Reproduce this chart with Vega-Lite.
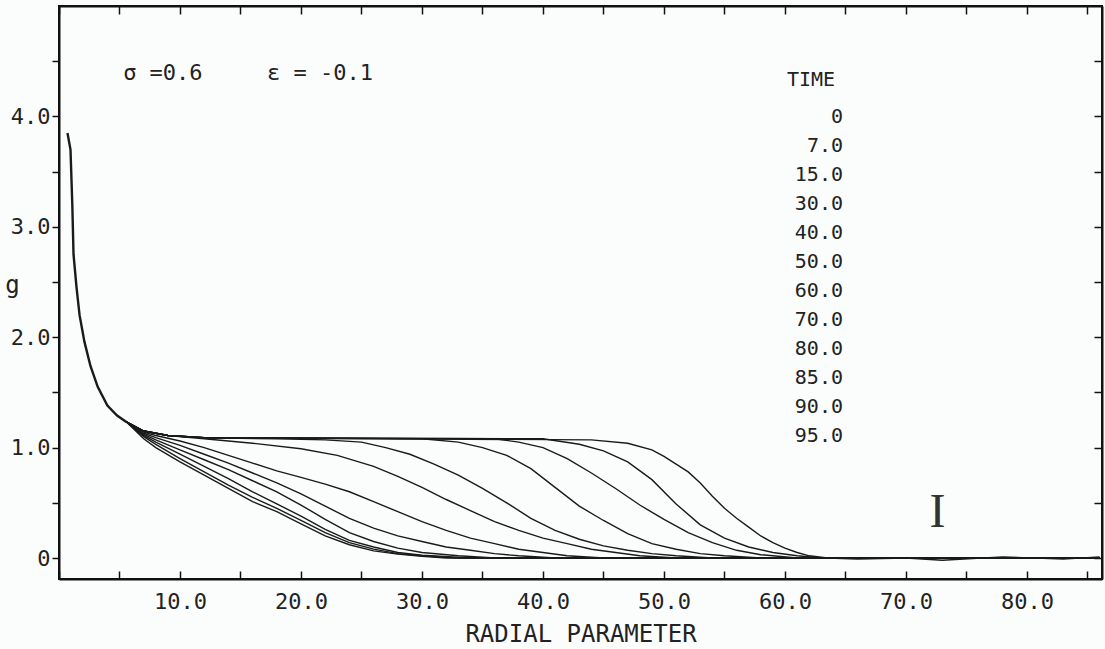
{
"$schema": "https://vega.github.io/schema/vega-lite/v6.json",
"width": 1043,
"height": 573,
"autosize": {"type": "none"},
"padding": {"left": 59, "top": 6, "right": 3, "bottom": 70},
"background": "#fbfdfd",
"config": {"view": {"stroke": "#111", "strokeWidth": 2}, "font": "DejaVu Sans Mono"},
"datasets": {
"envelope": [
{"x":0.7,"g":3.85},{"x":0.95,"g":3.7},{"x":1.1,"g":3.2},{"x":1.2,"g":2.75},{"x":1.45,"g":2.45},{"x":1.7,"g":2.2},{"x":2.1,"g":1.96},{"x":2.6,"g":1.74},{"x":3.2,"g":1.55},{"x":4.0,"g":1.38},{"x":4.8,"g":1.29},{"x":5.6,"g":1.23}
],
"curves": [
{"t":"0","x":5.6,"g":1.23},{"t":"0","x":7,"g":1.08},{"t":"0","x":8,"g":1.0},{"t":"0","x":10,"g":0.87},{"t":"0","x":12,"g":0.75},{"t":"0","x":14,"g":0.63},{"t":"0","x":16,"g":0.51},{"t":"0","x":18,"g":0.42},{"t":"0","x":20,"g":0.31},{"t":"0","x":22,"g":0.2},{"t":"0","x":24,"g":0.12},{"t":"0","x":26,"g":0.065},{"t":"0","x":28,"g":0.035},{"t":"0","x":30,"g":0.015},{"t":"0","x":32,"g":0},{"t":"0","x":86,"g":0},
{"t":"7.0","x":5.6,"g":1.23},{"t":"7.0","x":7,"g":1.1},{"t":"7.0","x":8,"g":1.03},{"t":"7.0","x":10,"g":0.9},{"t":"7.0","x":12,"g":0.78},{"t":"7.0","x":14,"g":0.66},{"t":"7.0","x":16,"g":0.55},{"t":"7.0","x":18,"g":0.45},{"t":"7.0","x":20,"g":0.34},{"t":"7.0","x":22,"g":0.23},{"t":"7.0","x":24,"g":0.14},{"t":"7.0","x":26,"g":0.08},{"t":"7.0","x":28,"g":0.04},{"t":"7.0","x":30,"g":0.02},{"t":"7.0","x":33,"g":0},{"t":"7.0","x":86,"g":0},
{"t":"15.0","x":5.6,"g":1.23},{"t":"15.0","x":7,"g":1.11},{"t":"15.0","x":8,"g":1.05},{"t":"15.0","x":10,"g":0.94},{"t":"15.0","x":12,"g":0.83},{"t":"15.0","x":14,"g":0.72},{"t":"15.0","x":16,"g":0.6},{"t":"15.0","x":18,"g":0.49},{"t":"15.0","x":20,"g":0.38},{"t":"15.0","x":22,"g":0.26},{"t":"15.0","x":24,"g":0.16},{"t":"15.0","x":26,"g":0.1},{"t":"15.0","x":28,"g":0.05},{"t":"15.0","x":30,"g":0.025},{"t":"15.0","x":34,"g":0},{"t":"15.0","x":86,"g":0},
{"t":"30.0","x":5.6,"g":1.23},{"t":"30.0","x":7,"g":1.12},{"t":"30.0","x":8,"g":1.07},{"t":"30.0","x":10,"g":0.98},{"t":"30.0","x":12,"g":0.89},{"t":"30.0","x":14,"g":0.8},{"t":"30.0","x":16,"g":0.7},{"t":"30.0","x":18,"g":0.6},{"t":"30.0","x":20,"g":0.48},{"t":"30.0","x":22,"g":0.35},{"t":"30.0","x":24,"g":0.23},{"t":"30.0","x":26,"g":0.15},{"t":"30.0","x":28,"g":0.09},{"t":"30.0","x":30,"g":0.05},{"t":"30.0","x":33,"g":0.02},{"t":"30.0","x":36,"g":0},{"t":"30.0","x":86,"g":0},
{"t":"40.0","x":5.6,"g":1.23},{"t":"40.0","x":7,"g":1.13},{"t":"40.0","x":8,"g":1.09},{"t":"40.0","x":10,"g":1.02},{"t":"40.0","x":12,"g":0.94},{"t":"40.0","x":14,"g":0.86},{"t":"40.0","x":16,"g":0.77},{"t":"40.0","x":18,"g":0.68},{"t":"40.0","x":20,"g":0.58},{"t":"40.0","x":22,"g":0.47},{"t":"40.0","x":24,"g":0.36},{"t":"40.0","x":26,"g":0.27},{"t":"40.0","x":28,"g":0.2},{"t":"40.0","x":30,"g":0.15},{"t":"40.0","x":32,"g":0.1},{"t":"40.0","x":34,"g":0.07},{"t":"40.0","x":36,"g":0.04},{"t":"40.0","x":38,"g":0.02},{"t":"40.0","x":41,"g":0},{"t":"40.0","x":86,"g":0},
{"t":"50.0","x":5.6,"g":1.23},{"t":"50.0","x":7,"g":1.14},{"t":"50.0","x":8,"g":1.11},{"t":"50.0","x":10,"g":1.06},{"t":"50.0","x":12,"g":1.0},{"t":"50.0","x":14,"g":0.93},{"t":"50.0","x":16,"g":0.86},{"t":"50.0","x":18,"g":0.79},{"t":"50.0","x":20,"g":0.73},{"t":"50.0","x":22,"g":0.67},{"t":"50.0","x":24,"g":0.6},{"t":"50.0","x":26,"g":0.51},{"t":"50.0","x":28,"g":0.42},{"t":"50.0","x":30,"g":0.33},{"t":"50.0","x":32,"g":0.25},{"t":"50.0","x":34,"g":0.18},{"t":"50.0","x":36,"g":0.13},{"t":"50.0","x":38,"g":0.08},{"t":"50.0","x":40,"g":0.05},{"t":"50.0","x":42,"g":0.02},{"t":"50.0","x":45,"g":0},{"t":"50.0","x":86,"g":0},
{"t":"60.0","x":5.6,"g":1.23},{"t":"60.0","x":7,"g":1.15},{"t":"60.0","x":9,"g":1.11},{"t":"60.0","x":12,"g":1.08},{"t":"60.0","x":16,"g":1.04},{"t":"60.0","x":20,"g":0.99},{"t":"60.0","x":23,"g":0.93},{"t":"60.0","x":26,"g":0.83},{"t":"60.0","x":28,"g":0.74},{"t":"60.0","x":30,"g":0.64},{"t":"60.0","x":32,"g":0.53},{"t":"60.0","x":34,"g":0.43},{"t":"60.0","x":36,"g":0.33},{"t":"60.0","x":38,"g":0.25},{"t":"60.0","x":40,"g":0.18},{"t":"60.0","x":42,"g":0.13},{"t":"60.0","x":44,"g":0.08},{"t":"60.0","x":46,"g":0.05},{"t":"60.0","x":48,"g":0.02},{"t":"60.0","x":51,"g":0},{"t":"60.0","x":86,"g":0},
{"t":"70.0","x":5.6,"g":1.23},{"t":"70.0","x":7,"g":1.15},{"t":"70.0","x":9,"g":1.11},{"t":"70.0","x":12,"g":1.09},{"t":"70.0","x":18,"g":1.08},{"t":"70.0","x":22,"g":1.07},{"t":"70.0","x":25,"g":1.05},{"t":"70.0","x":27,"g":1.0},{"t":"70.0","x":29,"g":0.94},{"t":"70.0","x":31,"g":0.85},{"t":"70.0","x":33,"g":0.75},{"t":"70.0","x":35,"g":0.63},{"t":"70.0","x":37,"g":0.5},{"t":"70.0","x":39,"g":0.36},{"t":"70.0","x":41,"g":0.25},{"t":"70.0","x":43,"g":0.17},{"t":"70.0","x":45,"g":0.11},{"t":"70.0","x":47,"g":0.07},{"t":"70.0","x":49,"g":0.04},{"t":"70.0","x":51,"g":0.02},{"t":"70.0","x":54,"g":0},{"t":"70.0","x":86,"g":0},
{"t":"80.0","x":5.6,"g":1.23},{"t":"80.0","x":7,"g":1.15},{"t":"80.0","x":9,"g":1.11},{"t":"80.0","x":12,"g":1.09},{"t":"80.0","x":30,"g":1.08},{"t":"80.0","x":33,"g":1.05},{"t":"80.0","x":35,"g":1.0},{"t":"80.0","x":37,"g":0.93},{"t":"80.0","x":39,"g":0.81},{"t":"80.0","x":41,"g":0.64},{"t":"80.0","x":43,"g":0.47},{"t":"80.0","x":45,"g":0.34},{"t":"80.0","x":47,"g":0.22},{"t":"80.0","x":49,"g":0.13},{"t":"80.0","x":51,"g":0.08},{"t":"80.0","x":53,"g":0.04},{"t":"80.0","x":55,"g":0.02},{"t":"80.0","x":58,"g":0},{"t":"80.0","x":86,"g":0},
{"t":"85.0","x":5.6,"g":1.23},{"t":"85.0","x":7,"g":1.15},{"t":"85.0","x":9,"g":1.11},{"t":"85.0","x":12,"g":1.09},{"t":"85.0","x":36,"g":1.08},{"t":"85.0","x":38,"g":1.05},{"t":"85.0","x":40,"g":1.0},{"t":"85.0","x":42,"g":0.9},{"t":"85.0","x":44,"g":0.77},{"t":"85.0","x":46,"g":0.63},{"t":"85.0","x":48,"g":0.48},{"t":"85.0","x":50,"g":0.35},{"t":"85.0","x":52,"g":0.23},{"t":"85.0","x":54,"g":0.14},{"t":"85.0","x":56,"g":0.07},{"t":"85.0","x":58,"g":0.03},{"t":"85.0","x":61,"g":0},{"t":"85.0","x":86,"g":0},
{"t":"90.0","x":5.6,"g":1.23},{"t":"90.0","x":7,"g":1.15},{"t":"90.0","x":9,"g":1.11},{"t":"90.0","x":12,"g":1.09},{"t":"90.0","x":40,"g":1.08},{"t":"90.0","x":43,"g":1.03},{"t":"90.0","x":45,"g":0.97},{"t":"90.0","x":47,"g":0.87},{"t":"90.0","x":49,"g":0.71},{"t":"90.0","x":51,"g":0.49},{"t":"90.0","x":53,"g":0.3},{"t":"90.0","x":55,"g":0.18},{"t":"90.0","x":57,"g":0.1},{"t":"90.0","x":59,"g":0.05},{"t":"90.0","x":61,"g":0.02},{"t":"90.0","x":63,"g":0},{"t":"90.0","x":86,"g":0},
{"t":"95.0","x":5.6,"g":1.23},{"t":"95.0","x":7,"g":1.15},{"t":"95.0","x":9,"g":1.11},{"t":"95.0","x":12,"g":1.09},{"t":"95.0","x":44,"g":1.07},{"t":"95.0","x":47,"g":1.04},{"t":"95.0","x":49,"g":0.98},{"t":"95.0","x":50,"g":0.92},{"t":"95.0","x":51,"g":0.85},{"t":"95.0","x":52,"g":0.78},{"t":"95.0","x":53,"g":0.68},{"t":"95.0","x":54,"g":0.56},{"t":"95.0","x":55,"g":0.45},{"t":"95.0","x":56,"g":0.36},{"t":"95.0","x":57,"g":0.28},{"t":"95.0","x":58,"g":0.2},{"t":"95.0","x":59,"g":0.14},{"t":"95.0","x":60,"g":0.09},{"t":"95.0","x":61,"g":0.05},{"t":"95.0","x":62,"g":0.02},{"t":"95.0","x":63.5,"g":0},{"t":"95.0","x":66,"g":-0.01},{"t":"95.0","x":70,"g":0},{"t":"95.0","x":73,"g":-0.02},{"t":"95.0","x":78,"g":0.01},{"t":"95.0","x":83,"g":-0.01},{"t":"95.0","x":86,"g":0.01}
]
},
"layer": [
{
"data": {"name": "envelope"},
"mark": {"type": "line", "color": "#1a1a1a", "strokeWidth": 2.4},
"encoding": {
"x": {"field": "x", "type": "quantitative", "scale": {"domain": [0, 86.2], "nice": false, "zero": false},
"axis": {"orient": "bottom", "values": [0,5,10,15,20,25,30,35,40,45,50,55,60,65,70,75,80,85],
"labelExpr": "datum.value > 0 && datum.value % 10 == 0 ? format(datum.value, '.1f') : ''",
"grid": false, "tickSize": -8, "labelPadding": 20, "labelFont": "DejaVu Sans Mono", "labelFontSize": 22, "labelColor": "#222",
"domainColor": "#111", "domainWidth": 2, "tickColor": "#111", "tickWidth": 1.5,
"title": "RADIAL PARAMETER", "titleFont": "DejaVu Sans Mono", "titleFontSize": 24, "titleFontWeight": "normal", "titleColor": "#222", "titlePadding": 10}},
"y": {"field": "g", "type": "quantitative", "scale": {"domain": [-0.19, 5.0], "nice": false, "zero": false},
"axis": {"orient": "left", "values": [0,0.5,1,1.5,2,2.5,3,3.5,4,4.5],
"labelExpr": "datum.value == 0 ? '0' : (datum.value % 1 == 0 ? format(datum.value, '.1f') : '')",
"grid": false, "tickSize": 7, "labelPadding": 2, "labelFont": "DejaVu Sans Mono", "labelFontSize": 22, "labelColor": "#222",
"domainColor": "#111", "domainWidth": 2, "tickColor": "#111", "tickWidth": 1.5,
"title": "g", "titleAngle": 0, "titleX": -47, "titleY": 279, "titleAlign": "center", "titleBaseline": "middle",
"titleFont": "DejaVu Sans Mono", "titleFontSize": 24, "titleFontWeight": "normal", "titleColor": "#222"}}
}
},
{
"data": {"name": "curves"},
"mark": {"type": "line", "strokeWidth": 1.4},
"encoding": {
"x": {"field": "x", "type": "quantitative", "axis": null},
"y": {"field": "g", "type": "quantitative", "axis": null},
"detail": {"field": "t", "type": "nominal"},
"color": {"field": "t", "type": "nominal",
"scale": {"domain": ["0","7.0","15.0","30.0","40.0","50.0","60.0","70.0","80.0","85.0","90.0","95.0"],
"range": ["#1a1a1a","#1a1a1a","#1a1a1a","#1a1a1a","#1a1a1a","#1a1a1a","#1a1a1a","#1a1a1a","#1a1a1a","#1a1a1a","#1a1a1a","#1a1a1a"]},
"legend": {"orient": "none", "legendX": 728, "legendY": 64, "title": "TIME", "titleFont": "DejaVu Sans Mono", "titleFontSize": 20, "titleFontWeight": "normal", "titleColor": "#222", "titlePadding": 17,
"labelFont": "DejaVu Sans Mono", "labelFontSize": 20, "labelColor": "#222", "labelAlign": "right", "labelOffset": 36, "labelLimit": 200,
"symbolOpacity": 0, "symbolStrokeWidth": 0, "symbolSize": 10, "rowPadding": 9, "padding": 0}}
}
},
{
"data": {"values": [{"label": "σ =0.6", "x": 5.3, "g": 4.39}, {"label": "ε = -0.1", "x": 17.2, "g": 4.39}]},
"mark": {"type": "text", "align": "left", "baseline": "middle", "font": "DejaVu Sans Mono", "fontSize": 22, "color": "#222"},
"encoding": {
"x": {"field": "x", "type": "quantitative",
"axis": {"orient": "top", "values": [0,5,10,15,20,25,30,35,40,45,50,55,60,65,70,75,80,85], "labels": false, "title": null, "grid": false, "tickSize": -8, "domainColor": "#111", "domainWidth": 2, "tickColor": "#111", "tickWidth": 1.5}},
"y": {"field": "g", "type": "quantitative",
"axis": {"orient": "right", "values": [0,0.5,1,1.5,2,2.5,3,3.5,4,4.5], "labels": false, "title": null, "grid": false, "tickSize": -8, "domainColor": "#111", "domainWidth": 2, "tickColor": "#111", "tickWidth": 1.5}},
"text": {"field": "label", "type": "nominal"}
}
},
{
"data": {"values": [{"label": "I", "x": 72.6, "g": 0.41}]},
"mark": {"type": "text", "align": "center", "baseline": "middle", "font": "Liberation Serif", "fontSize": 48, "color": "#333"},
"encoding": {
"x": {"field": "x", "type": "quantitative", "axis": null},
"y": {"field": "g", "type": "quantitative", "axis": null},
"text": {"field": "label", "type": "nominal"}
}
}
],
"resolve": {"axis": {"x": "independent", "y": "independent"}}
}
